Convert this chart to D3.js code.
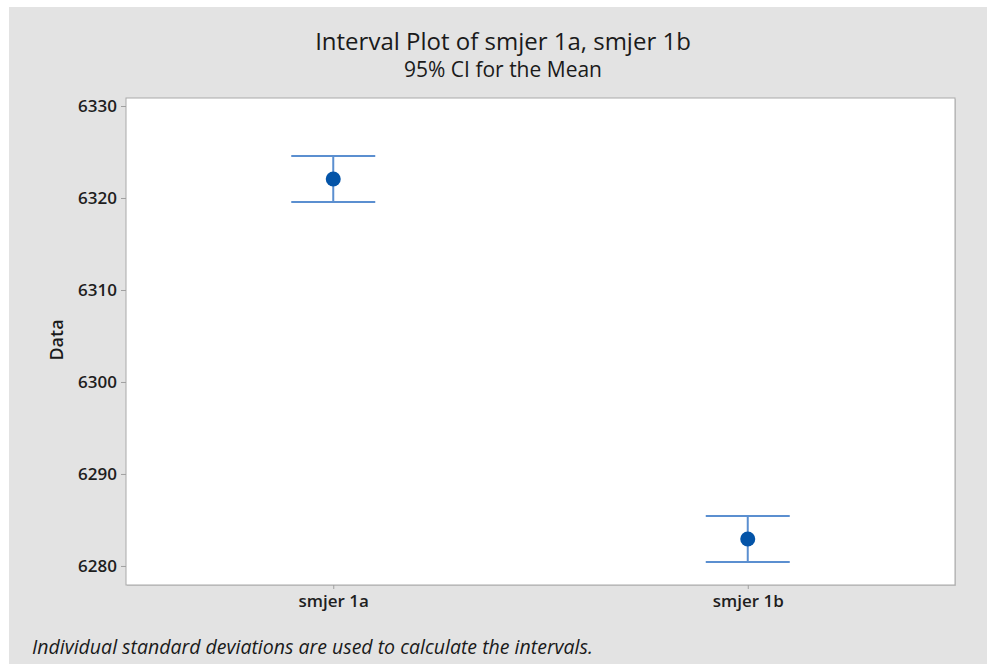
<!DOCTYPE html>
<html>
<head>
<meta charset="utf-8">
<script src="https://cdn.jsdelivr.net/npm/d3@7"></script>
<style>
  html, body { margin: 0; padding: 0; background: #ffffff; }
  svg { display: block; font-family: "Open Sans", "Noto Sans", sans-serif; }
</style>
</head>
<body>
<div id="chart"></div>
<script>
/* Interval plot, 95% CI for the mean */
var categories = ['smjer 1a', 'smjer 1b'];
var means = [6322.07, 6282.93];
var lower = [6319.57, 6280.43];
var upper = [6324.57, 6285.43];
var yTicks = [6280, 6290, 6300, 6310, 6320, 6330];

var W = 987, H = 664;
var m = { top: 98, right: 32, bottom: 79, left: 126 };
var innerW = W - m.left - m.right;
var innerH = H - m.top - m.bottom;

var svg = d3.select('#chart').append('svg')
  .attr('width', W)
  .attr('height', H);

/* Figure background */
svg.append('rect')
  .attr('x', 9).attr('y', 7)
  .attr('width', W - 9).attr('height', H - 7)
  .attr('fill', '#e3e3e3');

var x = d3.scalePoint().domain(categories).range([0, innerW]).padding(0.5);
var y = d3.scaleLinear().domain([6277.93, 6330.87]).range([innerH, 0]);

var g = svg.append('g')
  .attr('transform', 'translate(' + m.left + ',' + m.top + ')');

/* Plot area with slight shadow */
g.append('rect')
  .attr('x', 1).attr('y', 1)
  .attr('width', innerW).attr('height', innerH)
  .attr('fill', '#c8c8c8');
g.append('rect')
  .attr('width', innerW).attr('height', innerH)
  .attr('fill', '#ffffff')
  .attr('stroke', '#a9a9a9')
  .attr('stroke-width', 1);

/* Axes */
var yAxis = g.append('g')
  .call(d3.axisLeft(y).tickValues(yTicks).tickSize(5).tickPadding(4).tickFormat(d3.format('d')));
var xAxis = g.append('g')
  .attr('transform', 'translate(0,' + innerH + ')')
  .call(d3.axisBottom(x).tickSize(4).tickPadding(6));

g.selectAll('.domain').remove();
g.selectAll('.tick line').attr('stroke', '#a0a0a0');
g.selectAll('.tick text')
  .attr('fill', '#1e1e1e')
  .attr('font-size', '17px')
  .attr('font-weight', 600)
  .style('font-family', '"Open Sans", sans-serif');

/* Intervals */
var CAP = 42;
var rows = categories.map(function (c, i) {
  return { cat: c, mean: means[i], lo: lower[i], hi: upper[i] };
});

var iv = g.selectAll('.iv').data(rows).join('g').attr('class', 'iv');
iv.append('line')
  .attr('x1', function (d) { return x(d.cat); })
  .attr('x2', function (d) { return x(d.cat); })
  .attr('y1', function (d) { return y(d.lo); })
  .attr('y2', function (d) { return y(d.hi); })
  .attr('stroke', '#5b8fd0').attr('stroke-width', 2);
iv.append('line')
  .attr('x1', function (d) { return x(d.cat) - CAP; })
  .attr('x2', function (d) { return x(d.cat) + CAP; })
  .attr('y1', function (d) { return y(d.hi); })
  .attr('y2', function (d) { return y(d.hi); })
  .attr('stroke', '#5b8fd0').attr('stroke-width', 2);
iv.append('line')
  .attr('x1', function (d) { return x(d.cat) - CAP; })
  .attr('x2', function (d) { return x(d.cat) + CAP; })
  .attr('y1', function (d) { return y(d.lo); })
  .attr('y2', function (d) { return y(d.lo); })
  .attr('stroke', '#5b8fd0').attr('stroke-width', 2);
iv.append('circle')
  .attr('cx', function (d) { return x(d.cat); })
  .attr('cy', function (d) { return y(d.mean); })
  .attr('r', 7.5)
  .attr('fill', '#0454a8');

/* Titles */
svg.append('text')
  .attr('x', 503).attr('y', 50)
  .attr('text-anchor', 'middle')
  .attr('font-size', '24px')
  .attr('fill', '#1a1a1a')
  .text('Interval Plot of smjer 1a, smjer 1b');
svg.append('text')
  .attr('x', 503).attr('y', 77)
  .attr('text-anchor', 'middle')
  .attr('font-size', '21px')
  .attr('font-weight', 500)
  .attr('fill', '#1a1a1a')
  .text('95% CI for the Mean');

/* Y label */
svg.append('text')
  .attr('transform', 'translate(63,340) rotate(-90)')
  .attr('text-anchor', 'middle')
  .attr('font-size', '18px')
  .attr('font-weight', 600)
  .attr('fill', '#1a1a1a')
  .text('Data');

/* Footnote */
svg.append('text')
  .attr('x', 32).attr('y', 654)
  .attr('font-size', '19.5px')
  .attr('font-style', 'italic')
  .attr('fill', '#1a1a1a')
  .text('Individual standard deviations are used to calculate the intervals.');
</script>
</body>
</html>
